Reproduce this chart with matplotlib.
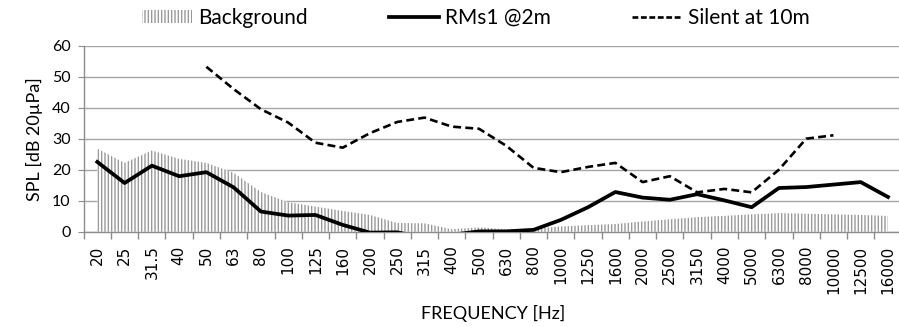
import numpy as np
import matplotlib
matplotlib.use("Agg")
import matplotlib.pyplot as plt
from matplotlib.patches import Patch
from matplotlib.lines import Line2D

freqs = ["20", "25", "31.5", "40", "50", "63", "80", "100", "125", "160",
         "200", "250", "315", "400", "500", "630", "800", "1000", "1250", "1600",
         "2000", "2500", "3150", "4000", "5000", "6300", "8000", "10000", "12500", "16000"]

background = [26.8, 22.2, 26.2, 23.5, 22.2, 19.0, 12.8, 9.5, 8.1, 6.7,
              5.4, 2.8, 2.7, 0.8, 1.4, 0.8, 1.0, 1.7, 2.1, 2.5,
              3.3, 4.0, 4.7, 5.1, 5.6, 6.0, 5.8, 5.6, 5.4, 5.1]

rms1 = [22.5, 15.7, 21.3, 17.9, 19.2, 14.3, 6.5, 5.2, 5.4, 2.2,
        -0.3, -0.2, -2.0, -1.0, 0.1, 0.1, 0.6, 3.8, 7.9, 12.8,
        11.0, 10.3, 12.1, 10.1, 7.9, 14.1, 14.4, 15.2, 16.0, 11.2]

# measured only from 50 Hz to 10 kHz
silent = [np.nan, np.nan, np.nan, np.nan, 53.2, 46.0, 39.5, 35.2, 28.7, 27.1,
          31.8, 35.4, 36.8, 33.9, 33.2, 27.7, 20.6, 19.2, 20.9, 22.2,
          16.0, 17.9, 12.7, 13.8, 12.7, 20.0, 30.0, 31.1, np.nan, np.nan]

plt.rcParams['font.family'] = ['Lato', 'DejaVu Sans']
plt.rcParams['hatch.linewidth'] = 1.0
plt.rcParams['hatch.color'] = '#999999'

W, H = 899, 327
fig = plt.figure(figsize=(W / 100, H / 100), dpi=100)
ax = fig.add_axes([83.7 / W, (H - 231.7) / H, (901.6 - 83.7) / W, (231.7 - 45.7) / H])

x = np.arange(len(freqs))
ax.fill_between(x, 0, background, facecolor='white', edgecolor='#999999',
                hatch='|||||', linewidth=0, zorder=2)
ax.plot(x, rms1, color='black', lw=2.7, solid_joinstyle='round', zorder=4)
ax.plot(x, silent, color='black', lw=1.9, dashes=(3, 1.6), zorder=3)

ax.set_xlim(-0.5, len(freqs) - 0.5)
ax.set_ylim(0, 60)
ax.set_yticks(range(0, 61, 10))
ax.grid(axis='y', color='#a6a6a6', lw=1.0, zorder=0)
ax.set_axisbelow(True)

ax.set_xticks(x)
ax.set_xticklabels(freqs, rotation=90, fontsize=11, family='DejaVu Sans')
ax.set_xticks(np.arange(-0.5, len(freqs), 1.0), minor=True)
ax.tick_params(axis='x', which='major', length=0, pad=10)
ax.tick_params(axis='x', which='minor', length=5, color='#8c8c8c', width=1.0)
ax.tick_params(axis='y', length=4.5, color='#8c8c8c', labelsize=11.5, pad=5)

for s in ['top', 'right']:
    ax.spines[s].set_visible(False)
for s in ['left', 'bottom']:
    ax.spines[s].set_color('#8c8c8c')
    ax.spines[s].set_linewidth(1.0)

ax.set_ylabel('SPL [dB 20µPa]', fontsize=13, labelpad=6)
ax.set_xlabel('FREQUENCY [Hz]', fontsize=13, labelpad=8)

handles = [
    Patch(facecolor='white', edgecolor='#999999', hatch='|||||', lw=0),
    Line2D([], [], color='black', lw=2.7),
    Line2D([], [], color='black', lw=1.9, dashes=(2.2, 1.0)),
]
fig.legend(handles, ['Background', 'RMs1 @2m', 'Silent at 10m'],
           loc='center', bbox_to_anchor=(476 / W, 1 - 18 / H), ncol=3,
           frameon=False, fontsize=15, handlelength=2.4, handleheight=0.6,
           handletextpad=0.3, columnspacing=3.9)

fig.savefig('out.png', dpi=100)
